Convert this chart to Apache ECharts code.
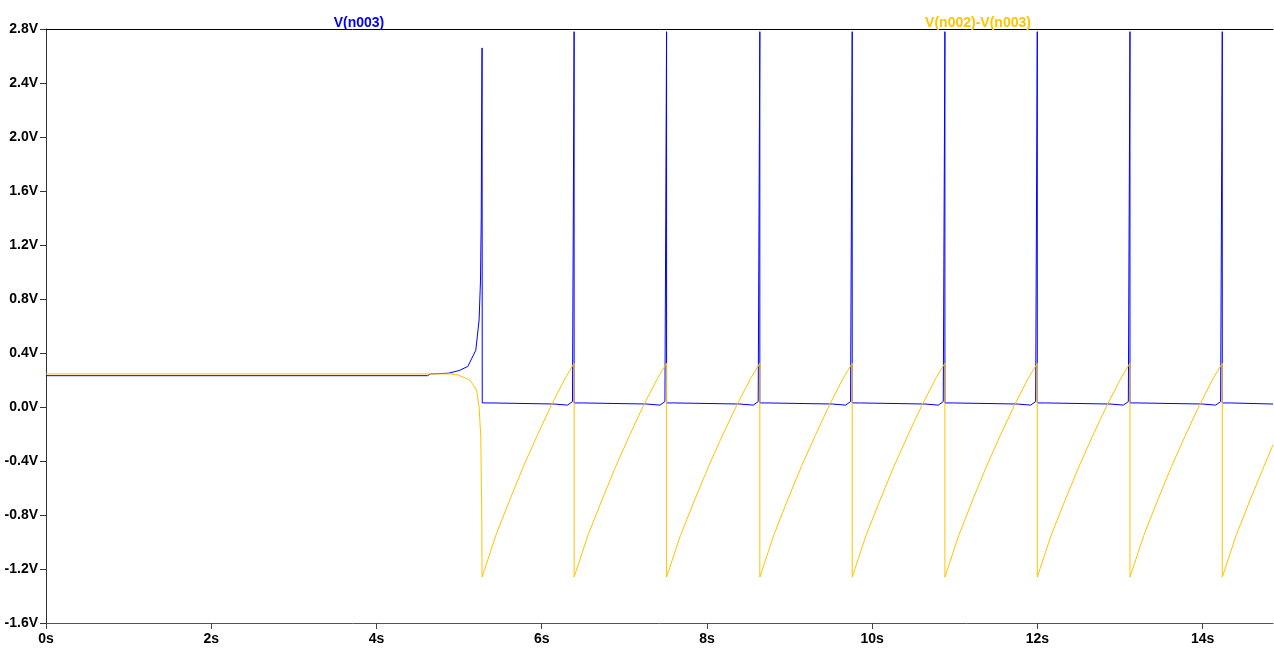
<!DOCTYPE html>
<html>
<head>
<meta charset="utf-8">
<script src="https://cdn.jsdelivr.net/npm/echarts@6/dist/echarts.min.js"></script>
<style>
html,body{margin:0;padding:0;background:#fff;}
#chart{width:1274px;height:648px;}
</style>
</head>
<body>
<div id="chart"></div>
<script>
// ---- Data (time in s, voltage in V) ----
const seriesNames = ['V(n003)', 'V(n002)-V(n003)'];
const xTicks = [0, 2, 4, 6, 8, 10, 12, 14];
const yTicks = [-1.6, -1.2, -0.8, -0.4, 0.0, 0.4, 0.8, 1.2, 1.6, 2.0, 2.4, 2.8];

// V(n003): flat start, first exponential rise and spike, then narrow spikes
const vN003 = [
  [0, 0.232], [4.62, 0.232], [4.65, 0.245], [4.87, 0.25], [5.00, 0.27],
  [5.105, 0.30], [5.202, 0.42], [5.242, 0.645], [5.259, 0.94], [5.268, 1.40],
  [5.272, 2.05], [5.278, 2.66], [5.280, 0.030], [5.40, 0.030], [5.42, 0.022],
  [6.152, 0.022], [6.172, 0.014], [6.312, 0.014], [6.372, 0.040], [6.392, 0.040], [6.392, 2.78], [6.392, 0.030], [6.492, 0.030], [6.512, 0.022],
  [7.271, 0.022], [7.291, 0.014], [7.431, 0.014], [7.491, 0.040], [7.511, 0.040], [7.511, 2.78], [7.511, 0.030], [7.611, 0.030], [7.631, 0.022],
  [8.400, 0.022], [8.420, 0.014], [8.560, 0.014], [8.620, 0.040], [8.640, 0.040], [8.640, 2.78], [8.640, 0.030], [8.740, 0.030], [8.760, 0.022],
  [9.518, 0.022], [9.538, 0.014], [9.678, 0.014], [9.738, 0.040], [9.758, 0.040], [9.758, 2.78], [9.758, 0.030], [9.858, 0.030], [9.878, 0.022],
  [10.640, 0.022], [10.660, 0.014], [10.800, 0.014], [10.860, 0.040], [10.880, 0.040], [10.880, 2.78], [10.880, 0.030], [10.980, 0.030], [11.000, 0.022],
  [11.758, 0.022], [11.778, 0.014], [11.918, 0.014], [11.978, 0.040], [11.998, 0.040], [11.998, 2.78], [11.998, 0.030], [12.098, 0.030], [12.118, 0.022],
  [12.880, 0.022], [12.900, 0.014], [13.040, 0.014], [13.100, 0.040], [13.120, 0.040], [13.120, 2.78], [13.120, 0.030], [13.220, 0.030], [13.240, 0.022],
  [13.997, 0.022], [14.017, 0.014], [14.157, 0.014], [14.217, 0.040], [14.237, 0.040], [14.237, 2.78], [14.237, 0.030], [14.337, 0.030], [14.357, 0.022],
  [14.851, 0.022]
];

// V(n002)-V(n003): flat start, collapse, then sawtooth
const vDiff = [
  [0, 0.245], [4.90, 0.245], [4.988, 0.237], [5.130, 0.20], [5.211, 0.126],
  [5.242, 0.0], [5.262, -0.22], [5.275, -0.84],
  [5.278, -1.26], [5.445, -0.95], [5.612, -0.69], [5.779, -0.44], [5.946, -0.21], [6.114, 0.01], [6.281, 0.21], [6.392, 0.324],
  [6.392, -1.26], [6.560, -0.95], [6.728, -0.69], [6.896, -0.44], [7.063, -0.21], [7.231, 0.01], [7.399, 0.21], [7.511, 0.324],
  [7.511, -1.26], [7.680, -0.95], [7.850, -0.69], [8.019, -0.44], [8.188, -0.21], [8.358, 0.01], [8.527, 0.21], [8.640, 0.324],
  [8.640, -1.26], [8.808, -0.95], [8.975, -0.69], [9.143, -0.44], [9.311, -0.21], [9.479, 0.01], [9.646, 0.21], [9.758, 0.324],
  [9.758, -1.26], [9.926, -0.95], [10.095, -0.69], [10.263, -0.44], [10.431, -0.21], [10.600, 0.01], [10.768, 0.21], [10.880, 0.324],
  [10.880, -1.26], [11.048, -0.95], [11.215, -0.69], [11.383, -0.44], [11.551, -0.21], [11.719, 0.01], [11.886, 0.21], [11.998, 0.324],
  [11.998, -1.26], [12.166, -0.95], [12.335, -0.69], [12.503, -0.44], [12.671, -0.21], [12.840, 0.01], [13.008, 0.21], [13.120, 0.324],
  [13.120, -1.26], [13.288, -0.95], [13.455, -0.69], [13.623, -0.44], [13.790, -0.21], [13.958, 0.01], [14.125, 0.21], [14.237, 0.324],
  [14.237, -1.26], [14.405, -0.95], [14.573, -0.69], [14.741, -0.44], [14.851, -0.28]
];

const X_MIN = 0, X_MAX = 14.851;
const Y_MIN = -1.6, Y_MAX = 2.8;
const BLUE = '#0000ff';
const YELLOW = '#ffc400';
const FONT = '"Liberation Sans", Arial, sans-serif';

const chart = echarts.init(document.getElementById('chart'), null, {renderer: 'canvas'});
chart.setOption({
  animation: false,
  backgroundColor: '#fff',
  title: [
    {text: seriesNames[0], left: 354, top: 11, textAlign: 'center',
     textStyle: {color: BLUE, fontFamily: FONT, fontWeight: 'bold', fontSize: 14}},
    {text: seriesNames[1], left: 973, top: 11, textAlign: 'center',
     textStyle: {color: YELLOW, fontFamily: FONT, fontWeight: 'bold', fontSize: 14}}
  ],
  grid: {left: 46, right: 1, top: 29, bottom: 25, containLabel: false},
  xAxis: [{
    type: 'value', min: X_MIN, max: X_MAX, interval: 2,
    position: 'bottom',
    splitLine: {show: false},
    axisLine: {show: true, onZero: false, lineStyle: {color: '#555', width: 1}},
    axisTick: {show: true, length: 6, lineStyle: {color: '#444', width: 1}},
    axisLabel: {
      color: '#000', fontFamily: FONT, fontWeight: 'bold', fontSize: 14, margin: 9,
      showMaxLabel: false,
      formatter: v => (xTicks.indexOf(v) >= 0 ? v + 's' : '')
    }
  }, {
    type: 'value', min: X_MIN, max: X_MAX, position: 'top',
    splitLine: {show: false},
    axisLine: {show: true, onZero: false, lineStyle: {color: '#000', width: 1}},
    axisTick: {show: false}, axisLabel: {show: false}
  }],
  yAxis: {
    type: 'value', min: Y_MIN, max: Y_MAX, interval: 0.4,
    splitLine: {show: false},
    axisLine: {show: true, onZero: false, lineStyle: {color: '#333', width: 1}},
    axisTick: {show: true, length: 6, lineStyle: {color: '#333', width: 1}},
    axisLabel: {
      color: '#000', fontFamily: FONT, fontWeight: 'bold', fontSize: 14, margin: 8,
      formatter: v => {
        const t = yTicks.find(y => Math.abs(y - v) < 1e-6);
        return t === undefined ? '' : t.toFixed(1) + 'V';
      }
    }
  },
  series: [
    {name: seriesNames[0], type: 'line', data: vN003, showSymbol: false, symbol: 'none',
     lineStyle: {color: BLUE, width: 1}, itemStyle: {color: BLUE}, z: 2, clip: true},
    {name: seriesNames[1], type: 'line', data: vDiff, showSymbol: false, symbol: 'none',
     lineStyle: {color: YELLOW, width: 1}, itemStyle: {color: YELLOW}, z: 3, clip: true}
  ]
});
</script>
</body>
</html>
